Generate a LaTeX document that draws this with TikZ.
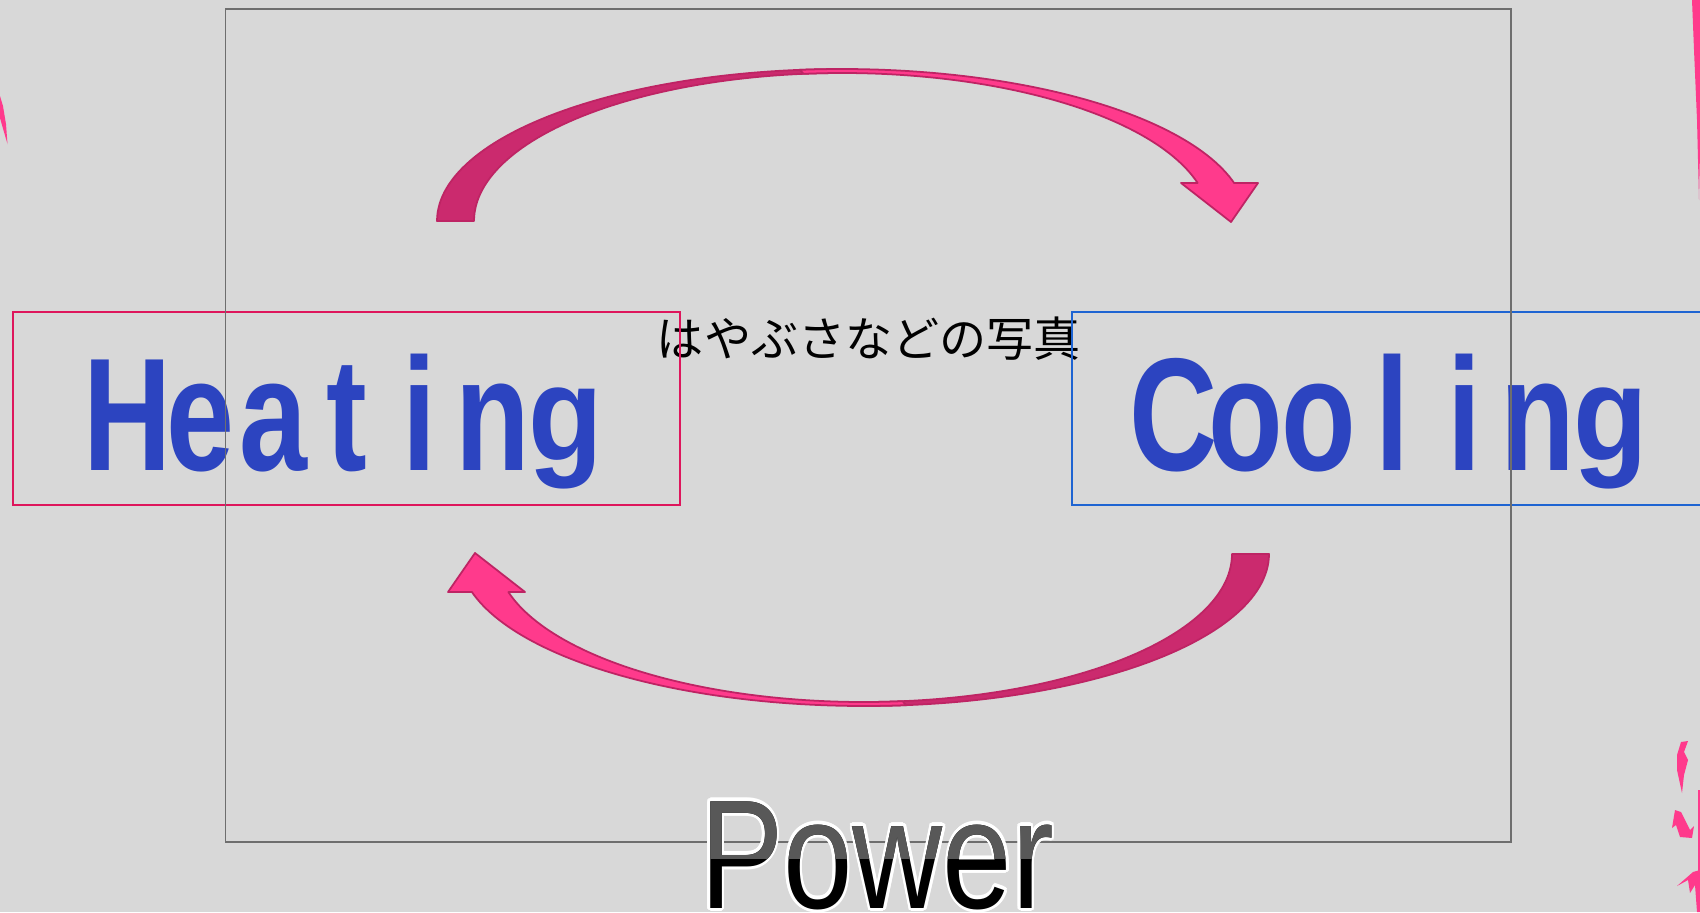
\documentclass[tikz,border=0pt]{standalone}
\usepackage{fontspec}
\usepackage{graphicx}
\usepackage{contour}
\setmainfont{Liberation Sans}
\newfontfamily\jpfont{Noto Sans CJK JP}
\newfontfamily\wordfont{Liberation Sans}
\contourlength{0.9pt}
\definecolor{bg}{RGB}{216,216,216}
\definecolor{framec}{RGB}{110,110,110}
\definecolor{heatc}{RGB}{222,22,92}
\definecolor{coolc}{RGB}{30,100,210}
\definecolor{wordblue}{RGB}{44,68,192}
\definecolor{arrdark}{RGB}{203,42,110}
\definecolor{arrpink}{RGB}{255,58,140}
\definecolor{arredge}{RGB}{190,36,100}
\definecolor{powgray}{RGB}{88,88,88}
\newcommand{\lb}[1]{\makebox[27.3pt]{#1}}
\newcommand{\shortg}{\raisebox{2.8pt}{\scalebox{1}[0.84]{g}}}
\newcommand{\cyclearrow}{%
  \filldraw[arrowdark]
    plot[domain=180:272,samples=60] ({842+405*cos(\x)},{221+152*sin(\x)})
    -- plot[domain=272:180,samples=60] ({842+368*cos(\x)},{221+148*sin(\x)})
    -- cycle;
  \filldraw[arrowpink]
    plot[domain=264:345.5,samples=60] ({842+405*cos(\x)},{221+152*sin(\x)})
    -- (1258,183) -- (1231,222) -- (1181,183)
    -- plot[domain=345.1:264,samples=60] ({842+368*cos(\x)},{221+148*sin(\x)})
    -- cycle;
}
\tikzset{
  arrowdark/.style={fill=arrdark, draw=arredge, line width=0.5pt, line join=round},
  arrowpink/.style={fill=arrpink, draw=arredge, line width=0.5pt, line join=round},
  wordbox/.style={rectangle, draw, line width=0.6pt, inner sep=0pt,
    minimum height=1.93cm, text height=1.23cm, text depth=0cm, text=wordblue,
    font=\wordfont\bfseries\fontsize{45.7pt}{50pt}\selectfont},
  powerstyle/.style={anchor=base, inner sep=0pt, font=\fontsize{44.1pt}{50pt}\selectfont},
  captionstyle/.style={inner sep=0pt, text=black, font=\jpfont\fontsize{13.4pt}{16pt}\selectfont},
  frameline/.style={draw=framec, line width=0.55pt},
  shard/.style={fill=arrpink}
}
\begin{document}
\begin{tikzpicture}[x=0.01cm,y=-0.01cm]
\useasboundingbox (0,0) rectangle (1700,912);
\begin{scope}
\clip (0,0) rectangle (1700,912);
\fill[bg] (0,0) rectangle (1700,912);
% cut-off shards at the edges
\fill[shard] (0,96) -- (3,106) -- (6,124) -- (7.5,144) -- (4,132) -- (0,118) -- cycle;
\fill[shard] (1692,0) -- (1700,0) -- (1700,150) -- (1699,200) -- (1697,120) -- (1694,50) -- cycle;
\fill[shard] (1681,742) -- (1688,741) -- (1684,752) -- (1688,760) -- (1684,775) -- (1682,793) -- (1677,770) -- (1677,755) -- cycle;
\fill[shard] (1675,810) -- (1681,812) -- (1690,830) -- (1694,826) -- (1692,838) -- (1680,837) -- (1676,825) -- (1672,828) -- cycle;
\fill[shard] (1677,886) -- (1693,872) -- (1700,870) -- (1700,912) -- (1697,912) -- (1695,885) -- (1690,893) -- (1688,880) -- cycle;
\fill[shard] (1698,790) rectangle (1700,912);

\node[captionstyle] (caption) at (869,339) {はやぶさなどの写真};

\node[wordbox, draw=heatc, minimum width=6.67cm] (heating) at (346.5,408.5)
  {\scalebox{0.76}[1]{\lb{H}\lb{e}\lb{a}\lb{t}\lb{i}\lb{n}\lb{\shortg}}};
\node[wordbox, draw=coolc, minimum width=6.40cm] (cooling) at (1392,408.5)
  {\scalebox{0.76}[1]{\lb{C}\lb{o}\lb{o}\lb{l}\lb{i}\lb{n}\lb{\shortg}}};

\draw[frameline] (225.5,8.7) rectangle (1511,842.4);

\cyclearrow
\begin{scope}[rotate around={180:(853,387.5)}]
\cyclearrow
\end{scope}

\node[powerstyle, text=black] (power) at (877,908) {\scalebox{0.805}[1]{\contour{white}{Power}}};
\begin{scope}
\clip (600,780) rectangle (1100,858);
\node[powerstyle, text=powgray] (powertop) at (877,908) {\scalebox{0.805}[1]{Power}};
\end{scope}
\end{scope}
\end{tikzpicture}
\end{document}
